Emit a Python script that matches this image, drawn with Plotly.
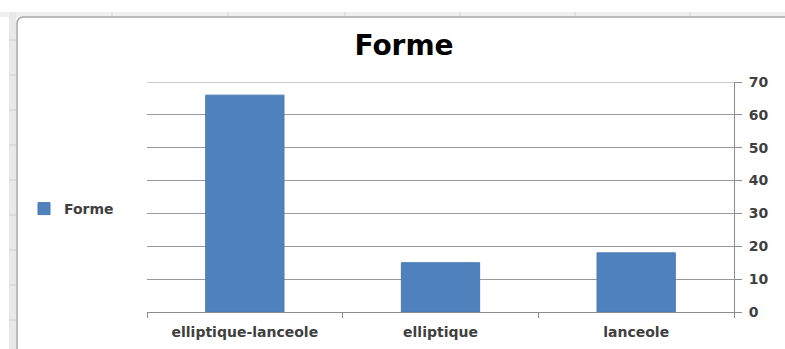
import plotly.graph_objects as go

# Leaf shape counts
categories = ["elliptique-lanceole", "elliptique", "lanceole"]
counts = [66, 15, 18]
series_name = "Forme"
y_ticks = [0, 10, 20, 30, 40, 50, 60, 70]

W, H = 785, 349
L, R, T, B = 147, 734, 82, 312  # plot area in pixels


def px(x):
    return (x - L) / (R - L)


def py(y):
    return (B - y) / (B - T)


LABEL_FONT = dict(family="DejaVu Sans", size=14, color="#404040", weight="bold")
GRID = "#999999"

fig = go.Figure()
fig.add_trace(go.Bar(
    x=categories,
    y=counts,
    name=series_name,
    marker=dict(color="#4f81bd", line=dict(color="#4a7ab3", width=1)),
    showlegend=True,
))

shapes = [
    # worksheet strips around the chart object
    dict(type="rect", xref="paper", yref="paper", x0=px(0), x1=px(W), y0=py(12), y1=py(17),
         fillcolor="#f0f0f0", line=dict(width=0), layer="below"),
    dict(type="rect", xref="paper", yref="paper", x0=px(9), x1=px(16), y0=py(12), y1=py(H),
         fillcolor="#e9e9e9", line=dict(width=0), layer="below"),
    # chart object frame
    dict(type="path", xref="paper", yref="paper",
         path=(f"M {px(17)},{py(H)} L {px(17)},{py(24)} "
               f"Q {px(17)},{py(17)} {px(24)},{py(17)} L {px(W)},{py(17)}"),
         line=dict(color="#a6a6a6", width=1.5), layer="below"),
    # top gridline at the axis maximum
    dict(type="line", xref="paper", yref="y", x0=0, x1=1, y0=max(y_ticks), y1=max(y_ticks),
         line=dict(color=GRID, width=1), layer="below"),
]
for gx in [112, 228, 345, 460, 575, 690]:
    shapes.append(dict(type="line", xref="paper", yref="paper", x0=px(gx), x1=px(gx),
                       y0=py(12), y1=py(16), line=dict(color="#d4d4d4", width=1)))
for gy in [40, 75, 110, 145, 180, 215, 250, 285, 320]:
    shapes.append(dict(type="line", xref="paper", yref="paper", x0=px(9), x1=px(16),
                       y0=py(gy), y1=py(gy), line=dict(color="#d0d0d0", width=1)))

fig.update_layout(
    width=W,
    height=H,
    margin=dict(l=L, r=W - R, t=T, b=H - B, autoexpand=False),
    paper_bgcolor="white",
    plot_bgcolor="white",
    bargap=0.6,
    font=dict(family="DejaVu Sans", color="#404040"),
    title=dict(text="<b>Forme</b>", xref="container", x=404 / W, xanchor="center",
               y=1 - 45 / H, yanchor="middle",
               font=dict(size=28, color="black", family="DejaVu Sans")),
    legend=dict(x=px(24), xanchor="left", y=py(209), yanchor="middle",
                font=LABEL_FONT, bgcolor="rgba(0,0,0,0)", itemwidth=30),
    shapes=shapes,
    xaxis=dict(
        showline=True, linecolor="#8c8c8c", linewidth=1,
        ticks="outside", ticklen=5, tickcolor="#8c8c8c", tickson="boundaries",
        tickfont=LABEL_FONT, ticklabelstandoff=7, automargin=False,
        showgrid=False,
    ),
    yaxis=dict(
        side="right", range=[0, 70], tickvals=y_ticks,
        showline=True, linecolor="#8c8c8c", linewidth=1,
        ticks="outside", ticklen=7, tickcolor="#8c8c8c",
        showgrid=True, gridcolor=GRID, gridwidth=1,
        tickfont=LABEL_FONT, ticklabelstandoff=4, automargin=False,
        zeroline=False,
    ),
)

fig.write_html("out.html")
